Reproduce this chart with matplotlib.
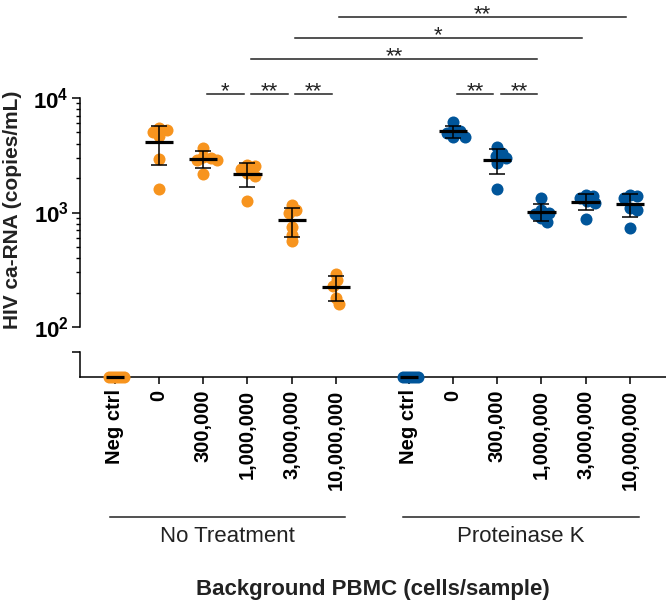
import numpy as np
import matplotlib.pyplot as plt
from matplotlib.ticker import FixedLocator, NullFormatter
from matplotlib import transforms

plt.rcParams['font.family'] = ['Liberation Sans', 'DejaVu Sans']
plt.rcParams['mathtext.fontset'] = 'custom'
plt.rcParams['mathtext.rm'] = 'Liberation Sans'
plt.rcParams['mathtext.bf'] = 'Liberation Sans:bold'

# ---- data ----
doses = ['Neg ctrl', '0', '300,000', '1,000,000', '3,000,000', '10,000,000']
groups = ['No Treatment', 'Proteinase K']

neg_ctrl_nt = [0, 0, 0, 0, 0, 0]
neg_ctrl_pk = [0, 0, 0, 0, 0, 0]

no_treatment = [
    [5300, 5450, 4700, 5000, 2950, 1600],   # 0
    [3650, 3000, 3050, 2900, 2850, 2150],   # 300,000
    [2600, 2550, 2400, 2200, 2100, 1250],   # 1,000,000
    [1160, 1050, 1000, 750, 640, 560],      # 3,000,000
    [290, 255, 230, 180, 160],              # 10,000,000
]
proteinase_k = [
    [6150, 5300, 5100, 4900, 4600, 4550],   # 0
    [3700, 3300, 3100, 3000, 2700, 1600],   # 300,000
    [1330, 1050, 1000, 980, 900, 830],      # 1,000,000
    [1420, 1380, 1350, 1250, 1200, 880],    # 3,000,000
    [1420, 1400, 1350, 1100, 1050, 730],    # 10,000,000
]

# (group, dose index) pairs compared, stars, bar row
sig_tests = [
    (('nt', 2), ('nt', 3), '*', 0),
    (('nt', 3), ('nt', 4), '**', 0),
    (('nt', 4), ('nt', 5), '**', 0),
    (('pk', 1), ('pk', 2), '**', 0),
    (('pk', 2), ('pk', 3), '**', 0),
    (('nt', 3), ('pk', 3), '**', 1),
    (('nt', 4), ('pk', 4), '*', 2),
    (('nt', 5), ('pk', 5), '**', 3),
]

orange = '#F7941E'
blue = '#00559A'

x_nt = np.arange(6)
x_pk = np.arange(6) + 6.65
xpos = {'nt': x_nt, 'pk': x_pk}

fig = plt.figure(figsize=(6.66, 6.07), dpi=100)
W, H = 666, 607
ax = fig.add_axes([80 / W, 1 - 330 / H, 586 / W, 330 / H])
ax2 = fig.add_axes([80 / W, 1 - 377 / H, 586 / W, 25 / H], sharex=ax)

dec = 114.5
ax.set_yscale('log')
ax.set_ylim(10 ** (2 - 3 / dec), 10 ** (4 + 98 / dec))
ax.set_xlim(-0.79, 12.47)
ax2.set_ylim(0, 1)

for a in (ax, ax2):
    for s in ('top', 'right'):
        a.spines[s].set_visible(False)
    a.patch.set_visible(False)
ax.spines['bottom'].set_visible(False)
ax.spines['left'].set_bounds(100, 10000)
ax.spines['left'].set_linewidth(1.1)
ax2.spines['left'].set_linewidth(1.1)
ax2.spines['bottom'].set_linewidth(1.1)

ax.yaxis.set_major_locator(FixedLocator([100, 1000, 10000]))
ax.set_yticklabels([r'$\mathbf{10^{2}}$', r'$\mathbf{10^{3}}$', r'$\mathbf{10^{4}}$'])
ax.yaxis.set_minor_locator(FixedLocator([m * 10 ** e for e in (2, 3) for m in range(2, 10)]))
ax.yaxis.set_minor_formatter(NullFormatter())
ax.tick_params(axis='y', which='major', length=6, width=1.1, labelsize=16, pad=2)
ax.tick_params(axis='y', which='minor', length=3, width=1.0)
ax.tick_params(axis='x', bottom=False, labelbottom=False)

ax2.set_yticks([1])
ax2.set_yticklabels([''])
ax2.tick_params(axis='y', length=6, width=1.1)
ax2.set_xticks(np.concatenate([x_nt, x_pk]))
ax2.set_xticklabels(doses + doses, rotation=90, fontsize=14.5, fontweight='bold')
ax2.tick_params(axis='x', length=5, width=1.1, pad=4)


def swarm_offsets(a, x0, vals, min_dist, step=1.5):
    pts = a.transData.transform([(x0, v) for v in vals])
    order = np.argsort(-np.asarray(vals, dtype=float))
    placed = []
    offs = np.zeros(len(vals))
    for i in order:
        y = pts[i, 1]
        k = 0
        while True:
            cand = [0.0] if k == 0 else [k * step, -k * step]
            ok = None
            for c in cand:
                if all(np.hypot(c - px, y - py) >= min_dist for px, py in placed):
                    ok = c
                    break
            if ok is not None:
                break
            k += 1
        placed.append((ok, y))
        offs[i] = ok
    xs = a.transData.inverted().transform([(pts[i, 0] + offs[i], pts[i, 1]) for i in range(len(vals))])[:, 0]
    return xs


def draw_group(xs, series, neg, color):
    # negative controls on the lower segment
    nx = swarm_offsets(ax2, xs[0], neg, 3.0)
    ax2.scatter(nx, neg, s=75, color=color, lw=0, zorder=3, clip_on=False)
    ax2.hlines(np.mean(neg), xs[0] - 0.2, xs[0] + 0.2, color='black', lw=2.3, zorder=4, clip_on=False)
    for x0, vals in zip(xs[1:], series):
        px = swarm_offsets(ax, x0, vals, 6.5)
        ax.scatter(px, vals, s=75, color=color, lw=0, zorder=3)
        m = np.mean(vals)
        sd = np.std(vals, ddof=1)
        ax.errorbar(x0, m, yerr=sd, fmt='none', ecolor='black', elinewidth=1.1,
                    capsize=5.8, capthick=1.1, zorder=4)
        ax.hlines(m, x0 - 0.32, x0 + 0.32, color='black', lw=2.3, zorder=5)


draw_group(x_nt, no_treatment, neg_ctrl_nt, orange)
draw_group(x_pk, proteinase_k, neg_ctrl_pk, blue)

# significance bars
row_y = [10840, 21900, 33400, 50900]
for (g1, i1), (g2, i2), stars, row in sig_tests:
    xa = xpos[g1][i1] + 0.08
    xb = xpos[g2][i2] - 0.09
    y = row_y[row]
    ax.plot([xa, xb], [y, y], color='#222222', lw=1.1, clip_on=False)
    ax.annotate(stars, ((xa + xb) / 2, y), xytext=(0, -2.5), textcoords='offset points',
                ha='center', va='baseline', fontsize=16, color='#222222')

# group labels under the ticks
tr = transforms.blended_transform_factory(ax2.transData, fig.transFigure)
for xs, name in zip((x_nt, x_pk), groups):
    fig.add_artist(plt.Line2D([xs[0] - 0.12, xs[-1] + 0.2], [1 - 517 / H] * 2,
                              transform=tr, color='#222222', lw=1.1))
    fig.text((xs[0] + xs[-1]) / 2 + 0.04, 1 - 536 / H, name, transform=tr,
             ha='center', va='center', fontsize=16, color='#222222')

fig.text(373 / W, 1 - 590 / H, 'Background PBMC (cells/sample)', ha='center', va='center',
         fontsize=16, fontweight='bold', color='#222222')
fig.text(13 / W, 1 - 210 / H, 'HIV ca-RNA (copies/mL)', rotation=90, ha='center', va='center',
         fontsize=15, fontweight='bold', color='#222222')

fig.savefig('out.png', dpi=100)
